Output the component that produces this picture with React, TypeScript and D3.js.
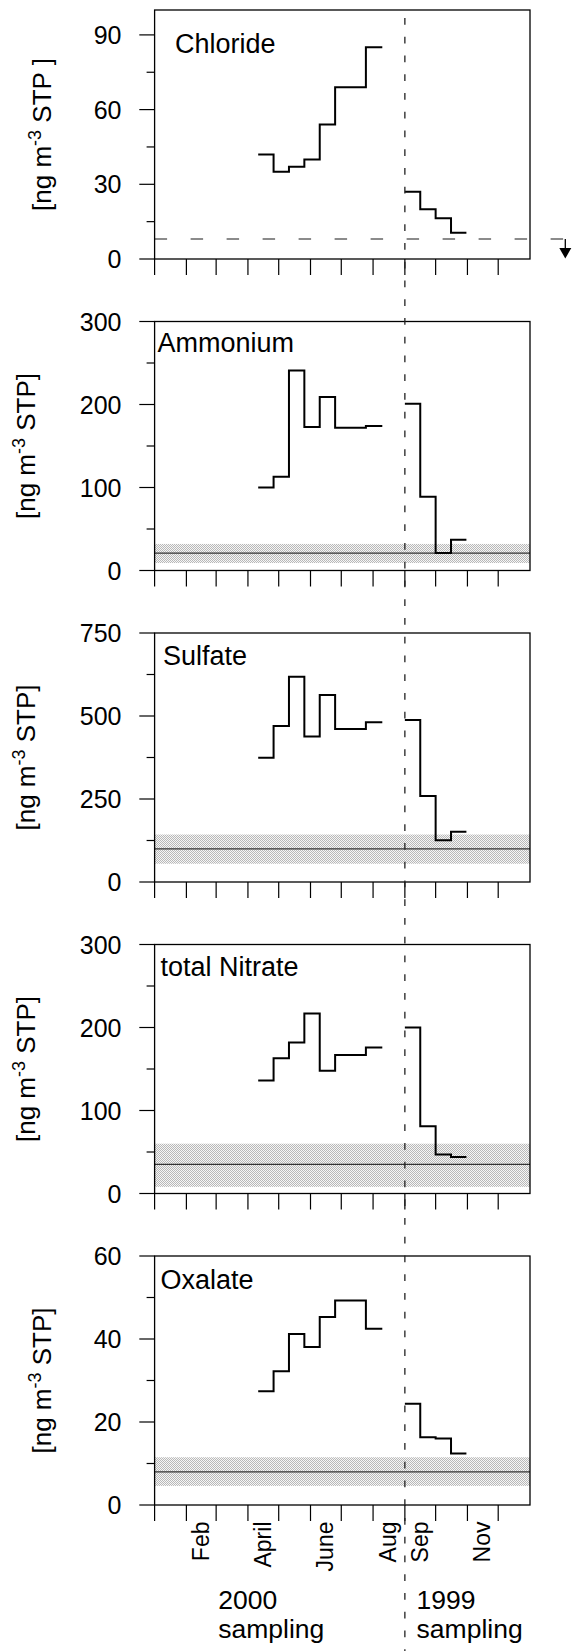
import React from 'react';
import * as d3 from 'd3';

// ---------------- data ----------------
const species = ['Chloride', 'Ammonium', 'Sulfate', 'total Nitrate', 'Oxalate'];

// sampling interval boundaries
const bounds2000 = ['2000-04-11', '2000-04-26', '2000-05-11', '2000-05-26', '2000-06-10', '2000-06-25', '2000-07-10', '2000-07-25', '2000-08-10'];
const bounds1999 = ['09-01', '09-16', '10-01', '10-16', '10-31'];

const chloride2000 = [42, 35, 37, 40, 54, 69, 69, 85];
const chloride1999 = [27, 20, 16.4, 10.5];
const ammonium2000 = [100, 113, 241, 173, 209, 172, 172, 174];
const ammonium1999 = [201, 89, 21, 37];
const sulfate2000 = [374, 470, 618, 438, 563, 461, 461, 481];
const sulfate1999 = [488, 259, 126, 151];
const nitrate2000 = [136, 163, 182, 217, 148, 167, 167, 176];
const nitrate1999 = [200, 81, 47, 44];
const oxalate2000 = [27.4, 32.2, 41.2, 38.1, 45.3, 49.3, 49.3, 42.5];
const oxalate1999 = [24.4, 16.3, 16.0, 12.4];

const yMax = [100, 300, 750, 300, 60];
const yMajorTicks = [[0, 30, 60, 90], [0, 100, 200, 300], [0, 250, 500, 750], [0, 100, 200, 300], [0, 20, 40, 60]];
const yMinorTicks = [[15, 45, 75], [50, 150, 250], [125, 375, 625], [50, 150, 250], [10, 30, 50]];

// background level (chloride: limit, drawn dashed with arrow)
const bgMean = [8, 21, 100, 35, 8];
const bgLow = [null, 9, 55, 8, 4.6];
const bgHigh = [null, 32, 143, 60, 11.5];

const yLabelPost = [' STP ]', ' STP]', ' STP]', ' STP]', ' STP]'];

const monthLabels = ['Feb', 'April', 'June', 'Aug', 'Sep', 'Nov'];
const monthLabelIndex = [1, 3, 5, 7, 8, 10];
const yearTexts = ['2000', '1999'];

// ---------------- layout ----------------
const W = 572;
const H = 1651;
const LEFT = 154.6;
const RIGHT = 530;
const TOP0 = 10;
const STEP = 311.5;
const PH = 249;
const FONT = '"Liberation Sans", Arial, Helvetica, sans-serif';
const titlePos = [
  { x: 175, dy: 43.3 },
  { x: 157.5, dy: 30.2 },
  { x: 163, dy: 32.3 },
  { x: 160.5, dy: 31.7 },
  { x: 160.5, dy: 32.6 },
];
const yLabelX = [51, 35, 35, 35, 51];

const parseFull = d3.timeParse('%Y-%m-%d');
const x = d3.scaleTime().domain([new Date(2000, 0, 1), new Date(2001, 0, 1)]).range([LEFT, RIGHT]);
const monthTicks = d3.timeMonth.range(new Date(2000, 0, 1), new Date(2001, 0, 1));

const dates2000 = bounds2000.map((s) => parseFull(s) as Date);
const dates1999 = bounds1999.map((s) => parseFull('2000-' + s) as Date);

const series2000 = [chloride2000, ammonium2000, sulfate2000, nitrate2000, oxalate2000];
const series1999 = [chloride1999, ammonium1999, sulfate1999, nitrate1999, oxalate1999];

function stepPath(dates: Date[], vals: number[], y: d3.ScaleLinear<number, number>) {
  const pts: [number, number][] = dates.map((d, i) => [x(d), y(vals[Math.min(i, vals.length - 1)])]);
  return d3.line().curve(d3.curveStepAfter)(pts) || '';
}

function Panel({ i }: { i: number }) {
  const top = TOP0 + i * STEP;
  const bottom = top + PH;
  const y = d3.scaleLinear().domain([0, yMax[i]]).range([bottom, top]);
  const hasBand = bgLow[i] !== null;
  return (
    <g>
      {hasBand && (
        <>
          <rect x={LEFT} width={RIGHT - LEFT} y={y(bgHigh[i] as number)} height={y(bgLow[i] as number) - y(bgHigh[i] as number)} fill="url(#stipple)" />
          <line x1={LEFT} x2={RIGHT} y1={y(bgMean[i])} y2={y(bgMean[i])} stroke="#333" strokeWidth={1.3} />
        </>
      )}
      {!hasBand && (
        <>
          <line x1={LEFT} x2={RIGHT + 35.3} y1={y(bgMean[i])} y2={y(bgMean[i])} stroke="#666" strokeWidth={1.5} strokeDasharray="12.5 23.5" />
          <line x1={RIGHT + 35.3} x2={RIGHT + 35.3} y1={y(bgMean[i])} y2={bottom - 10} stroke="#000" strokeWidth={1.3} />
          <path d={`M${RIGHT + 29.3},${bottom - 11} L${RIGHT + 41.3},${bottom - 11} L${RIGHT + 35.3},${bottom - 0.5} Z`} fill="#000" />
        </>
      )}
      {/* frame */}
      <rect x={LEFT} y={top} width={RIGHT - LEFT} height={PH} fill="none" stroke="#000" strokeWidth={1.3} />
      {/* y ticks */}
      {yMajorTicks[i].map((t) => (
        <g key={'M' + t}>
          <line x1={LEFT - 15.3} x2={LEFT} y1={y(t)} y2={y(t)} stroke="#000" strokeWidth={1.2} />
          <text x={121.5} y={y(t)} dy="0.36em" textAnchor="end" fontSize={25} fontFamily={FONT} fill="#000">{t}</text>
        </g>
      ))}
      {yMinorTicks[i].map((t) => (
        <line key={'m' + t} x1={LEFT - 8} x2={LEFT} y1={y(t)} y2={y(t)} stroke="#000" strokeWidth={1.2} />
      ))}
      {/* x ticks */}
      {monthTicks.map((d, k) => (
        <line key={k} x1={x(d)} x2={x(d)} y1={bottom} y2={bottom + 16} stroke="#000" strokeWidth={1.2} />
      ))}
      {/* data */}
      <path d={stepPath(dates2000, series2000[i], y)} fill="none" stroke="#000" strokeWidth={2} />
      <path d={stepPath(dates1999, series1999[i], y)} fill="none" stroke="#000" strokeWidth={2} />
      {/* title */}
      <text x={titlePos[i].x} y={top + titlePos[i].dy} fontSize={27} fontFamily={FONT} fill="#000">{species[i]}</text>
      {/* y label */}
      <text transform={`translate(${yLabelX[i]},${(top + bottom) / 2}) rotate(-90)`} textAnchor="middle" fontSize={26} fontFamily={FONT} fill="#000">
        <tspan>[ng m</tspan>
        <tspan dy={-10} fontSize={18}>-3</tspan>
        <tspan dy={10}>{yLabelPost[i]}</tspan>
      </text>
    </g>
  );
}

export default function App() {
  const lastBottom = TOP0 + 4 * STEP + PH;
  const sepX = x(new Date(2000, 8, 1));
  return (
    <svg width={W} height={H} viewBox={`0 0 ${W} ${H}`} style={{ position: 'absolute', left: 0, top: 0, display: 'block', background: '#fff' }}>
      <defs>
        <pattern id="stipple" width="2" height="2" patternUnits="userSpaceOnUse">
          <rect width="2" height="2" fill="#f6f6f6" />
          <rect x="0" y="0" width="1" height="1" fill="#b8b8b8" />
          <rect x="1" y="1" width="1" height="1" fill="#b8b8b8" />
        </pattern>
      </defs>
      <rect width={W} height={H} fill="#fff" />
      {species.map((_, i) => (
        <Panel key={i} i={i} />
      ))}
      {/* month labels */}
      {monthLabels.map((m, k) => {
        const cx = x(new Date(2000, monthLabelIndex[k], 15)) + 8.3;
        return (
          <text key={m} transform={`translate(${cx},${lastBottom + 16.5}) rotate(-90)`} textAnchor="end" fontSize={23} fontFamily={FONT} fill="#000">{m}</text>
        );
      })}
      {/* year texts */}
      {yearTexts.map((t, k) => {
        const tx = k === 0 ? 218.3 : 416.6;
        return (
          <text key={t} x={tx} y={1609.3} fontSize={26.5} fontFamily={FONT} fill="#000">
            <tspan x={tx}>{t}</tspan>
            <tspan x={tx} y={1638.3}>sampling</tspan>
          </text>
        );
      })}
      {/* separator between 2000 and 1999 sampling */}
      <line x1={sepX} x2={sepX} y1={18} y2={H} stroke="#222" strokeWidth={1.3} strokeDasharray="6.75 12" />
    </svg>
  );
}
